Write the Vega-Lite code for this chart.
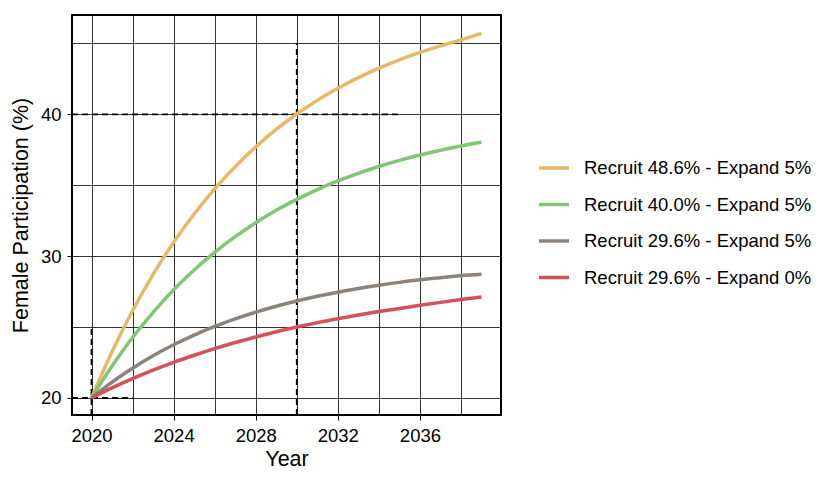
{
  "$schema": "https://vega.github.io/schema/vega-lite/v6.json",
  "width": 429,
  "height": 400,
  "autosize": {"type": "none"},
  "padding": {"left": 72, "top": 15, "right": 331, "bottom": 64},
  "background": "#ffffff",
  "config": {
    "font": "Liberation Sans",
    "view": {"stroke": "#000000", "strokeWidth": 2},
    "axis": {
      "domain": false,
      "grid": true,
      "gridColor": "#000000",
      "gridOpacity": 0.8,
      "gridWidth": 1,
      "tickColor": "#000000",
      "tickSize": 5,
      "tickWidth": 1,
      "labelColor": "#000000",
      "labelFontSize": 18.5,
      "labelFont": "Liberation Sans",
      "titleFont": "Liberation Sans",
      "titleFontSize": 21.5,
      "titleFontWeight": "normal",
      "titleColor": "#000000"
    },
    "legend": {
      "labelFont": "Liberation Sans",
      "labelFontSize": 18.5,
      "labelColor": "#000000",
      "labelLimit": 400
    }
  },
  "datasets": {
    "curves": [
      {"year": 2020, "series": "Recruit 48.6% - Expand 5%", "value": 20.0},
      {"year": 2021, "series": "Recruit 48.6% - Expand 5%", "value": 23.26},
      {"year": 2022, "series": "Recruit 48.6% - Expand 5%", "value": 26.15},
      {"year": 2023, "series": "Recruit 48.6% - Expand 5%", "value": 28.71},
      {"year": 2024, "series": "Recruit 48.6% - Expand 5%", "value": 30.97},
      {"year": 2025, "series": "Recruit 48.6% - Expand 5%", "value": 32.97},
      {"year": 2026, "series": "Recruit 48.6% - Expand 5%", "value": 34.74},
      {"year": 2027, "series": "Recruit 48.6% - Expand 5%", "value": 36.31},
      {"year": 2028, "series": "Recruit 48.6% - Expand 5%", "value": 37.7},
      {"year": 2029, "series": "Recruit 48.6% - Expand 5%", "value": 38.93},
      {"year": 2030, "series": "Recruit 48.6% - Expand 5%", "value": 40.02},
      {"year": 2031, "series": "Recruit 48.6% - Expand 5%", "value": 40.98},
      {"year": 2032, "series": "Recruit 48.6% - Expand 5%", "value": 41.83},
      {"year": 2033, "series": "Recruit 48.6% - Expand 5%", "value": 42.58},
      {"year": 2034, "series": "Recruit 48.6% - Expand 5%", "value": 43.25},
      {"year": 2035, "series": "Recruit 48.6% - Expand 5%", "value": 43.84},
      {"year": 2036, "series": "Recruit 48.6% - Expand 5%", "value": 44.36},
      {"year": 2037, "series": "Recruit 48.6% - Expand 5%", "value": 44.82},
      {"year": 2038, "series": "Recruit 48.6% - Expand 5%", "value": 45.25},
      {"year": 2039, "series": "Recruit 48.6% - Expand 5%", "value": 45.7},

      {"year": 2020, "series": "Recruit 40.0% - Expand 5%", "value": 20.0},
      {"year": 2021, "series": "Recruit 40.0% - Expand 5%", "value": 22.26},
      {"year": 2022, "series": "Recruit 40.0% - Expand 5%", "value": 24.26},
      {"year": 2023, "series": "Recruit 40.0% - Expand 5%", "value": 26.04},
      {"year": 2024, "series": "Recruit 40.0% - Expand 5%", "value": 27.62},
      {"year": 2025, "series": "Recruit 40.0% - Expand 5%", "value": 29.02},
      {"year": 2026, "series": "Recruit 40.0% - Expand 5%", "value": 30.27},
      {"year": 2027, "series": "Recruit 40.0% - Expand 5%", "value": 31.37},
      {"year": 2028, "series": "Recruit 40.0% - Expand 5%", "value": 32.35},
      {"year": 2029, "series": "Recruit 40.0% - Expand 5%", "value": 33.23},
      {"year": 2030, "series": "Recruit 40.0% - Expand 5%", "value": 34.0},
      {"year": 2031, "series": "Recruit 40.0% - Expand 5%", "value": 34.69},
      {"year": 2032, "series": "Recruit 40.0% - Expand 5%", "value": 35.3},
      {"year": 2033, "series": "Recruit 40.0% - Expand 5%", "value": 35.84},
      {"year": 2034, "series": "Recruit 40.0% - Expand 5%", "value": 36.32},
      {"year": 2035, "series": "Recruit 40.0% - Expand 5%", "value": 36.75},
      {"year": 2036, "series": "Recruit 40.0% - Expand 5%", "value": 37.13},
      {"year": 2037, "series": "Recruit 40.0% - Expand 5%", "value": 37.47},
      {"year": 2038, "series": "Recruit 40.0% - Expand 5%", "value": 37.77},
      {"year": 2039, "series": "Recruit 40.0% - Expand 5%", "value": 38.03},

      {"year": 2020, "series": "Recruit 29.6% - Expand 5%", "value": 20.0},
      {"year": 2021, "series": "Recruit 29.6% - Expand 5%", "value": 21.12},
      {"year": 2022, "series": "Recruit 29.6% - Expand 5%", "value": 22.1},
      {"year": 2023, "series": "Recruit 29.6% - Expand 5%", "value": 22.98},
      {"year": 2024, "series": "Recruit 29.6% - Expand 5%", "value": 23.75},
      {"year": 2025, "series": "Recruit 29.6% - Expand 5%", "value": 24.43},
      {"year": 2026, "series": "Recruit 29.6% - Expand 5%", "value": 25.04},
      {"year": 2027, "series": "Recruit 29.6% - Expand 5%", "value": 25.58},
      {"year": 2028, "series": "Recruit 29.6% - Expand 5%", "value": 26.05},
      {"year": 2029, "series": "Recruit 29.6% - Expand 5%", "value": 26.47},
      {"year": 2030, "series": "Recruit 29.6% - Expand 5%", "value": 26.84},
      {"year": 2031, "series": "Recruit 29.6% - Expand 5%", "value": 27.17},
      {"year": 2032, "series": "Recruit 29.6% - Expand 5%", "value": 27.46},
      {"year": 2033, "series": "Recruit 29.6% - Expand 5%", "value": 27.72},
      {"year": 2034, "series": "Recruit 29.6% - Expand 5%", "value": 27.95},
      {"year": 2035, "series": "Recruit 29.6% - Expand 5%", "value": 28.15},
      {"year": 2036, "series": "Recruit 29.6% - Expand 5%", "value": 28.33},
      {"year": 2037, "series": "Recruit 29.6% - Expand 5%", "value": 28.48},
      {"year": 2038, "series": "Recruit 29.6% - Expand 5%", "value": 28.62},
      {"year": 2039, "series": "Recruit 29.6% - Expand 5%", "value": 28.72},

      {"year": 2020, "series": "Recruit 29.6% - Expand 0%", "value": 20.0},
      {"year": 2021, "series": "Recruit 29.6% - Expand 0%", "value": 20.71},
      {"year": 2022, "series": "Recruit 29.6% - Expand 0%", "value": 21.36},
      {"year": 2023, "series": "Recruit 29.6% - Expand 0%", "value": 21.96},
      {"year": 2024, "series": "Recruit 29.6% - Expand 0%", "value": 22.51},
      {"year": 2025, "series": "Recruit 29.6% - Expand 0%", "value": 23.01},
      {"year": 2026, "series": "Recruit 29.6% - Expand 0%", "value": 23.48},
      {"year": 2027, "series": "Recruit 29.6% - Expand 0%", "value": 23.91},
      {"year": 2028, "series": "Recruit 29.6% - Expand 0%", "value": 24.3},
      {"year": 2029, "series": "Recruit 29.6% - Expand 0%", "value": 24.67},
      {"year": 2030, "series": "Recruit 29.6% - Expand 0%", "value": 25.0},
      {"year": 2031, "series": "Recruit 29.6% - Expand 0%", "value": 25.31},
      {"year": 2032, "series": "Recruit 29.6% - Expand 0%", "value": 25.59},
      {"year": 2033, "series": "Recruit 29.6% - Expand 0%", "value": 25.85},
      {"year": 2034, "series": "Recruit 29.6% - Expand 0%", "value": 26.09},
      {"year": 2035, "series": "Recruit 29.6% - Expand 0%", "value": 26.31},
      {"year": 2036, "series": "Recruit 29.6% - Expand 0%", "value": 26.53},
      {"year": 2037, "series": "Recruit 29.6% - Expand 0%", "value": 26.74},
      {"year": 2038, "series": "Recruit 29.6% - Expand 0%", "value": 26.94},
      {"year": 2039, "series": "Recruit 29.6% - Expand 0%", "value": 27.12}
    ],
    "guides": [
      {"x": 2030, "x2": 2030, "y": 18.8, "y2": 45},
      {"x": 2019.05, "x2": 2035, "y": 40, "y2": 40},
      {"x": 2020, "x2": 2020, "y": 18.8, "y2": 25},
      {"x": 2019.05, "x2": 2022, "y": 20, "y2": 20}
    ]
  },
  "layer": [
    {
      "data": {"name": "guides"},
      "mark": {"type": "rule", "color": "#000000", "strokeWidth": 1.8, "strokeDash": [6, 4]},
      "encoding": {
        "x": {
          "field": "x",
          "type": "quantitative",
          "scale": {"domain": [2019.05, 2039.95], "nice": false, "zero": false},
          "axis": {
            "title": "Year",
            "values": [2020, 2022, 2024, 2026, 2028, 2030, 2032, 2034, 2036, 2038],
            "format": "d",
            "labelExpr": "datum.value % 4 === 0 ? datum.label : ''",
            "tickOpacity": {"condition": {"test": "datum.value % 4 === 0", "value": 1}, "value": 0},
            "labelPadding": 6,
            "titlePadding": 4
          }
        },
        "x2": {"field": "x2"},
        "y": {
          "field": "y",
          "type": "quantitative",
          "scale": {"domain": [18.8, 47.0], "nice": false, "zero": false},
          "axis": {
            "title": "Female Participation (%)",
            "values": [20, 25, 30, 35, 40, 45],
            "labelExpr": "datum.value % 10 === 0 ? datum.label : ''",
            "tickOpacity": {"condition": {"test": "datum.value % 10 === 0", "value": 1}, "value": 0},
            "labelPadding": 6,
            "titlePadding": 8
          }
        },
        "y2": {"field": "y2"}
      }
    },
    {
      "data": {"name": "curves"},
      "mark": {"type": "line", "strokeWidth": 3.5, "interpolate": "monotone", "clip": true},
      "encoding": {
        "x": {
          "field": "year",
          "type": "quantitative",
          "scale": {"domain": [2019.05, 2039.95], "nice": false, "zero": false},
          "axis": {
            "title": "Year",
            "values": [2020, 2022, 2024, 2026, 2028, 2030, 2032, 2034, 2036, 2038],
            "format": "d",
            "labelExpr": "datum.value % 4 === 0 ? datum.label : ''",
            "tickOpacity": {"condition": {"test": "datum.value % 4 === 0", "value": 1}, "value": 0},
            "labelPadding": 6,
            "titlePadding": 4
          }
        },
        "y": {
          "field": "value",
          "type": "quantitative",
          "scale": {"domain": [18.8, 47.0], "nice": false, "zero": false},
          "axis": {
            "title": "Female Participation (%)",
            "values": [20, 25, 30, 35, 40, 45],
            "labelExpr": "datum.value % 10 === 0 ? datum.label : ''",
            "tickOpacity": {"condition": {"test": "datum.value % 10 === 0", "value": 1}, "value": 0},
            "labelPadding": 6,
            "titlePadding": 8
          }
        },
        "color": {
          "field": "series",
          "type": "nominal",
          "sort": null,
          "scale": {
            "domain": ["Recruit 48.6% - Expand 5%", "Recruit 40.0% - Expand 5%", "Recruit 29.6% - Expand 5%", "Recruit 29.6% - Expand 0%"],
            "range": ["#e8b866", "#7dc870", "#8c837c", "#d65058"]
          },
          "legend": {
            "title": null,
            "orient": "none",
            "legendX": 465,
            "legendY": 136,
            "symbolType": "stroke",
            "symbolSize": 900,
            "symbolStrokeWidth": 3.5,
            "labelOffset": 13,
            "rowPadding": 9.5
          }
        }
      }
    }
  ]
}
